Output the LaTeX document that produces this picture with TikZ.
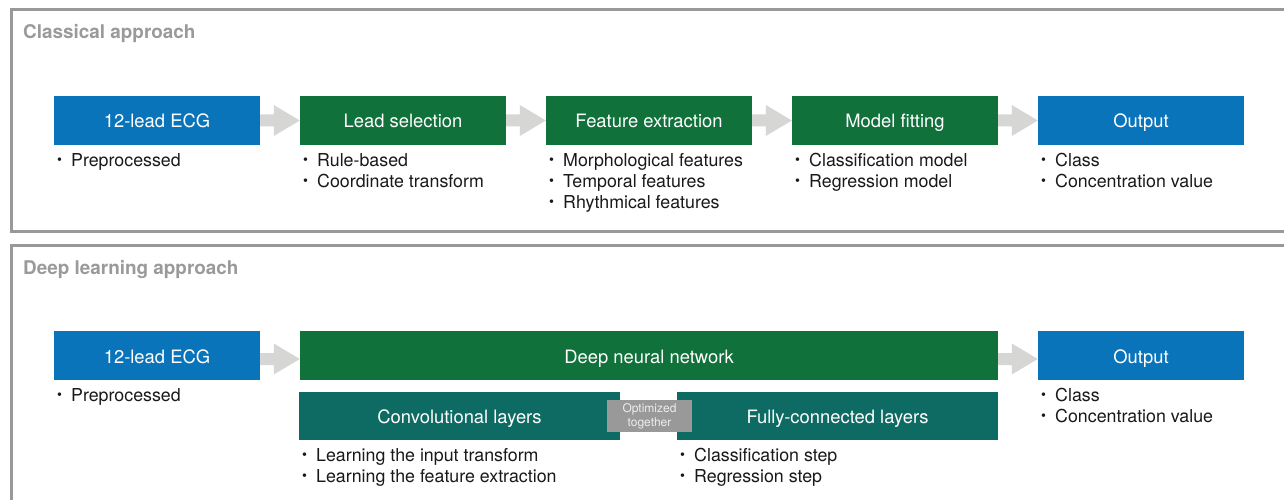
\documentclass[tikz,border=0pt]{standalone}
\usepackage{fontspec}
\setmainfont{TeX Gyre Heros}
\usetikzlibrary{calc}
\definecolor{ecgblue}{HTML}{0A74BA}
\definecolor{ecggreen}{HTML}{11713B}
\definecolor{ecgteal}{HTML}{0E6B63}
\definecolor{framegray}{HTML}{999999}
\definecolor{arrowgray}{HTML}{D6D6D5}
\definecolor{titlegray}{HTML}{9A9A9A}
\newcommand{\bulmark}{\makebox[17pt][l]{\hspace{3pt}\raisebox{1.8pt}{\fontsize{14}{14}\selectfont •}}}
\newcommand{\flowarrow}[3]{%
  \fill[arrowgray] ([yshift=#3+6pt]#1.east) -- ([xshift=-26pt,yshift=#3+6pt]#2.west)
    -- ([xshift=-26pt,yshift=#3+15.5pt]#2.west) -- ([yshift=#3]#2.west)
    -- ([xshift=-26pt,yshift=#3-15.5pt]#2.west) -- ([xshift=-26pt,yshift=#3-6pt]#2.west)
    -- ([yshift=#3-6pt]#1.east) -- cycle;}
\begin{document}
\begin{tikzpicture}[x=1pt,y=-1pt,
  boxbase/.style={inner sep=0pt, text=white, minimum height=49pt, text height=15pt, text depth=0pt, font=\fontsize{18.4}{20}\selectfont},
  bluebox/.style={boxbase, fill=ecgblue, minimum width=206pt},
  greenbox/.style={boxbase, fill=ecggreen, minimum width=206pt},
  tealbox/.style={boxbase, fill=ecgteal, minimum width=321pt, minimum height=48pt},
  optbox/.style={inner sep=0pt, fill=framegray, text=white!93!black, minimum width=85pt, minimum height=32pt, align=center, font=\fontsize{12}{14}\selectfont},
  frame/.style={draw=framegray, line width=3pt},
  headline/.style={anchor=base west, inner sep=0pt, text=titlegray, font=\bfseries\fontsize{18.9}{22}\selectfont},
  bl/.style={anchor=base west, inner sep=0pt, text=black!90, font=\fontsize{17.8}{21}\selectfont, execute at begin node=\bulmark}
]
\useasboundingbox (0,0) rectangle (1284,500);
\clip (0,0) rectangle (1284,500);
\fill[white] (0,0) rectangle (1284,500);
% frames
\draw[frame] (11,10) rectangle (1300,231);
\draw[frame] (11,245) rectangle (1300,520);
\node[headline] (h1) at (23,39) {Classical approach};
\node[headline] (h2) at (23,274) {Deep learning approach};
% classical row
\node[bluebox] (ecg1) at (157,120.5) {12-lead ECG};
\node[greenbox] (lead) at (403,120.5) {Lead selection};
\node[greenbox] (feat) at (649,120.5) {Feature extraction};
\node[greenbox] (model) at (895,120.5) {Model fitting};
\node[bluebox] (out1) at (1141,120.5) {Output};
\flowarrow{ecg1}{lead}{0pt}
\flowarrow{lead}{feat}{0pt}
\flowarrow{feat}{model}{0pt}
\flowarrow{model}{out1}{0pt}
\node[bl] (b11) at (54,166) {Preprocessed};
\node[bl] (b21) at (300,166) {Rule-based};
\node[bl] (b22) at (300,187) {Coordinate transform};
\node[bl] (b31) at (546,166) {Morphological features};
\node[bl] (b32) at (546,187) {Temporal features};
\node[bl] (b33) at (546,208) {Rhythmical features};
\node[bl] (b41) at (792,166) {Classification model};
\node[bl] (b42) at (792,187) {Regression model};
\node[bl] (b51) at (1038,166) {Class};
\node[bl] (b52) at (1038,187) {Concentration value};
% deep learning row
\node[bluebox] (ecg2) at (157,355.5) {12-lead ECG};
\node[greenbox, minimum width=698pt] (dnn) at (649,355.5) {Deep neural network};
\node[bluebox] (out2) at (1141,355.5) {Output};
\flowarrow{ecg2}{dnn}{-3.5pt}
\flowarrow{dnn}{out2}{-3.5pt}
\node[tealbox] (conv) at (459.5,416) {Convolutional layers};
\node[tealbox] (fc) at (837.5,416) {Fully-connected layers};
\node[optbox] (opt) at (649.5,416) {Optimized\\together};
\node[bl] (c11) at (54,401) {Preprocessed};
\node[bl] (c21) at (299,461) {Learning the input transform};
\node[bl] (c22) at (299,482) {Learning the feature extraction};
\node[bl] (c31) at (677,461) {Classification step};
\node[bl] (c32) at (677,482) {Regression step};
\node[bl] (c41) at (1038,401) {Class};
\node[bl] (c42) at (1038,422) {Concentration value};
\end{tikzpicture}
\end{document}
